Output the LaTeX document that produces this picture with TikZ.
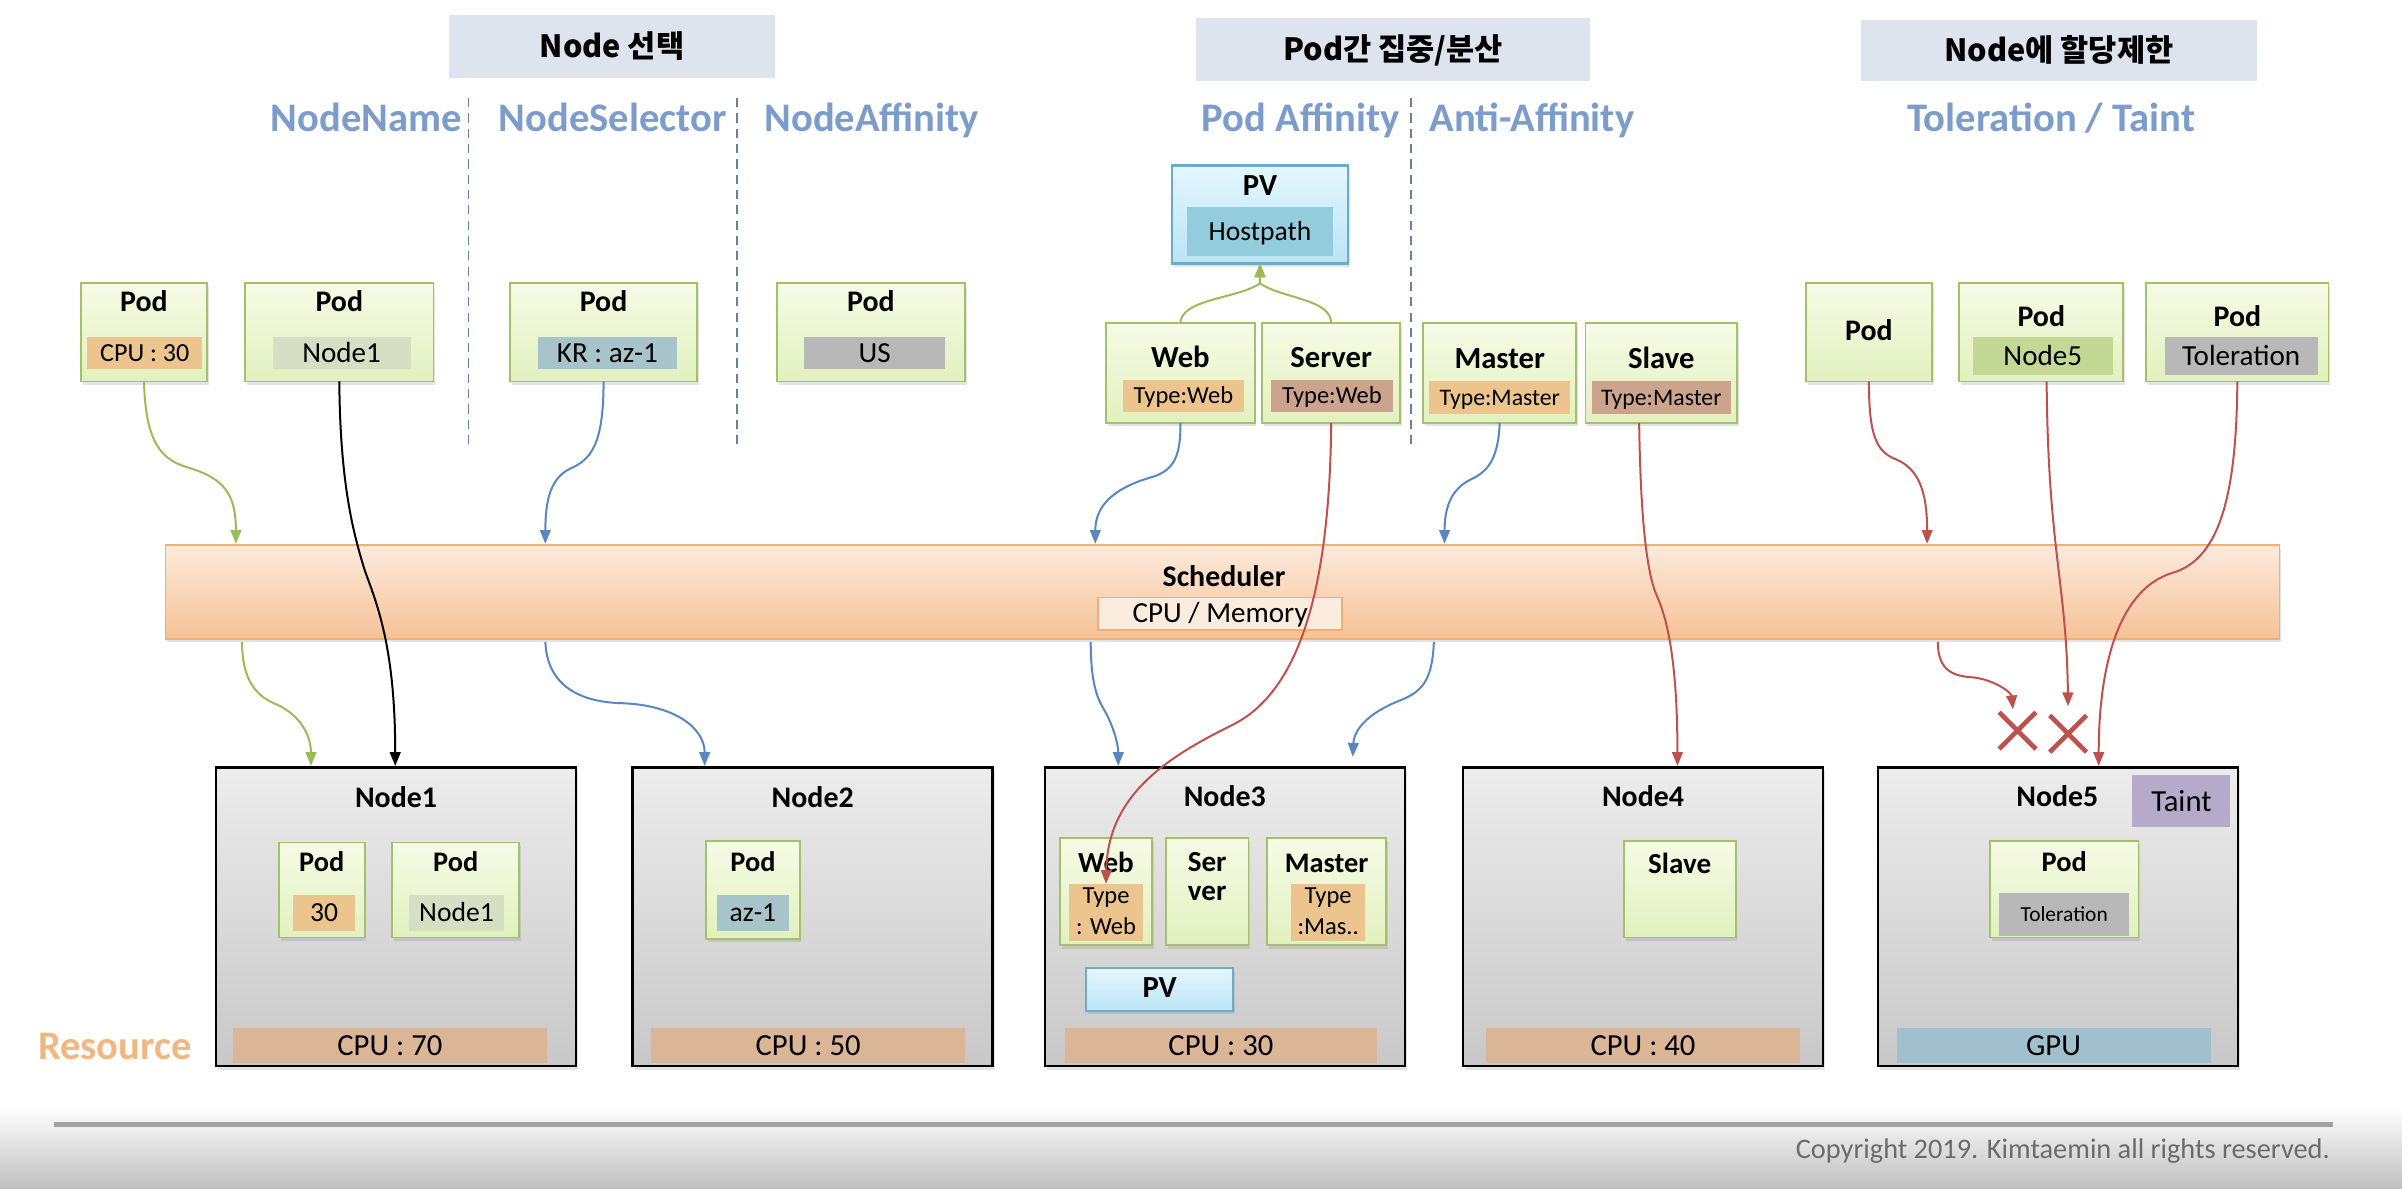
\documentclass[tikz,border=0pt]{standalone}
\usepackage{fontspec}
\setmainfont{Carlito}
\newfontfamily\kr{Noto Sans CJK KR}
\usetikzlibrary{arrows.meta,shadows,shapes.misc}
\definecolor{hdrfill}{RGB}{221,228,238}
\definecolor{catblue}{RGB}{124,156,204}
\definecolor{dashc}{RGB}{100,130,165}
\definecolor{podtop}{RGB}{246,251,230}
\definecolor{podbot}{RGB}{226,240,190}
\definecolor{podline}{RGB}{163,193,104}
\definecolor{lorange}{RGB}{236,196,142}
\definecolor{lbrown}{RGB}{204,164,142}
\definecolor{lgreen}{RGB}{214,222,196}
\definecolor{lteal}{RGB}{166,196,201}
\definecolor{lgray}{RGB}{184,184,184}
\definecolor{lnode5}{RGB}{196,216,150}
\definecolor{pvtop}{RGB}{228,246,253}
\definecolor{pvbot}{RGB}{186,228,244}
\definecolor{pvline}{RGB}{106,172,204}
\definecolor{hostfill}{RGB}{146,204,221}
\definecolor{schtop}{RGB}{252,234,220}
\definecolor{schbot}{RGB}{246,194,150}
\definecolor{schline}{RGB}{238,176,118}
\definecolor{memfill}{RGB}{252,236,222}
\definecolor{nodetop}{RGB}{236,236,236}
\definecolor{nodebot}{RGB}{200,200,200}
\definecolor{cpubar}{RGB}{218,181,150}
\definecolor{gpubar}{RGB}{160,192,206}
\definecolor{taintc}{RGB}{182,170,202}
\definecolor{resc}{RGB}{240,184,128}
\definecolor{cgreen}{RGB}{155,187,89}
\definecolor{cblue}{RGB}{88,134,192}
\definecolor{cred}{RGB}{190,80,77}
\newcommand\mkbox[7]{\node[#1,anchor=north west,inner sep=0pt,outer sep=0pt,minimum width={(#5-#3)*1pt},minimum height={(#6-#4)*1pt}] (#2) at (#3,#4) {#7};}
\begin{document}
\begin{tikzpicture}[x=1pt,y=-1pt,
  fsz/.style={inner sep=0pt,font=\fontsize{#1}{#1}\selectfont,text height={#1*0.644pt},text depth=0pt},
  fszb/.style={inner sep=0pt,font=\bfseries\fontsize{#1}{#1}\selectfont,text height={#1*0.644pt},text depth=0pt},
  hdr/.style={fill=hdrfill,font=\kr\bfseries\fontsize{20}{20}\selectfont,text height=14.6pt,text depth=0pt},
  cat/.style={inner sep=0pt,anchor=base,font=\bfseries\fontsize{26.5}{26.5}\selectfont,text=catblue},
  dashline/.style={draw=dashc,line width=0.9pt,dash pattern=on 6pt off 4pt},
  shad/.style={drop shadow={shadow xshift=1.2pt,shadow yshift=-2.2pt,opacity=.22}},
  podbox/.style={draw=podline,line width=1.2pt,top color=podtop,bottom color=podbot,shad},
  pvbox/.style={draw=pvline,line width=1.4pt,top color=pvtop,bottom color=pvbot,shad},
  schbox/.style={draw=schline,line width=1.2pt,top color=schtop,bottom color=schbot,shad},
  nodebox/.style={draw=black,line width=1.6pt,top color=nodetop,bottom color=nodebot,shad},
  bar/.style={fsz=20,fill=cpubar},
  conn/.style={line width=1.3pt,-{Triangle[length=9pt,width=7pt]}},
]
\fill[white] (0,0) rectangle (1568,776);
\useasboundingbox (0,0) rectangle (1568,776);
\fill[top color=white,bottom color=black!25] (0,722) rectangle (1568,776);
\draw[line width=3pt,black!37] (35,734) -- (1523,734);
\node[fsz=18.5,text=black!58,anchor=base east] (copy) at (1521,756) {Copyright 2019. Kimtaemin all rights reserved.};

% headers
\mkbox{hdr}{h1}{293}{10}{506}{51}{Node 선택}
\mkbox{hdr}{h2}{781}{12}{1038}{53}{Pod간 집중/분산}
\mkbox{hdr}{h3}{1215}{13}{1473}{53}{Node에 할당제한}

% category labels
\node[cat] (c1) at (239,86) {NodeName};
\node[cat] (c2) at (400,86) {NodeSelector};
\node[cat] (c3) at (569,86) {NodeAffinity};
\node[cat] (c4) at (849,86) {Pod Affinity};
\node[cat] (c5) at (1000,86) {Anti-Affinity};
\node[cat] (c6) at (1339,86) {Toleration / Taint};
\draw[dashline] (306,64) -- (306,290);
\draw[dashline] (481,64) -- (481,290);
\draw[dashline] (921,64) -- (921,290);

% top pods
\mkbox{podbox}{p1}{53}{185}{135}{249}{}
\node[fszb=19.5] (p1t) at (94,197) {Pod};
\mkbox{fsz=17,fill=lorange}{p1l}{57}{220}{132}{241}{CPU : 30}
\mkbox{podbox}{p2}{160}{185}{283}{249}{}
\node[fszb=19.5] (p2t) at (221.5,197) {Pod};
\mkbox{fsz=19,fill=lgreen}{p2l}{178}{220}{268}{241}{Node1}
\mkbox{podbox}{p3}{333}{185}{455}{249}{}
\node[fszb=19.5] (p3t) at (394,197) {Pod};
\mkbox{fsz=19,fill=lteal}{p3l}{351}{220}{442}{241}{KR : az-1}
\mkbox{podbox}{p4}{507}{185}{630}{249}{}
\node[fszb=19.5] (p4t) at (568.5,197) {Pod};
\mkbox{fsz=19,fill=lgray}{p4l}{525}{220}{617}{241}{US}

% PV and affinity pods
\mkbox{pvbox}{pv}{765}{108}{880}{172}{}
\node[fszb=20] (pvt) at (822.5,121) {PV};
\mkbox{fsz=18,fill=hostfill}{pvl}{775}{135}{870}{167}{Hostpath}
\mkbox{podbox}{web}{722}{211}{819}{276}{}
\node[fszb=20] (webt) at (770.5,233.5) {Web};
\mkbox{fsz=16,fill=lorange}{webl}{733}{248}{812}{269}{Type:Web}
\mkbox{podbox}{srv}{824}{211}{914}{276}{}
\node[fszb=20] (srvt) at (869,233.5) {Server};
\mkbox{fsz=16,fill=lbrown}{srvl}{830}{248}{909}{269}{Type:Web}
\mkbox{podbox}{mst}{929}{211}{1029}{276}{}
\node[fszb=20] (mstt) at (979,234) {Master};
\mkbox{fsz=15.5,fill=lorange}{mstl}{933}{249}{1025}{270}{Type:Master}
\mkbox{podbox}{slv}{1035}{211}{1134}{276}{}
\node[fszb=20] (slvt) at (1084.5,234) {Slave};
\mkbox{fsz=15.5,fill=lbrown}{slvl}{1039}{249}{1130}{270}{Type:Master}

% toleration pods
\mkbox{podbox}{tp1}{1179}{185}{1261}{249}{}
\node[fszb=19.5] (tp1t) at (1220,216) {Pod};
\mkbox{podbox}{tp2}{1279}{185}{1386}{249}{}
\node[fszb=19.5] (tp2t) at (1332.5,207) {Pod};
\mkbox{fsz=19,fill=lnode5}{tp2l}{1288}{220}{1379}{245}{Node5}
\mkbox{podbox}{tp3}{1401}{185}{1520}{249}{}
\node[fszb=19.5] (tp3t) at (1460.5,207) {Pod};
\mkbox{fsz=19,fill=lgray}{tp3l}{1413}{220}{1513}{245}{Toleration}

% scheduler
\mkbox{schbox}{sch}{108}{356}{1488}{417}{}
\node[fszb=19.5] (scht) at (799,376.5) {Scheduler};
\mkbox{fsz=19,fill=memfill,draw=schline,line width=1.2pt}{mem}{717}{390}{876}{411}{CPU / Memory}

% Node1
\mkbox{nodebox}{n1}{141}{501}{376}{696}{}
\node[fszb=19.5] (n1t) at (258.5,521) {Node1};
\mkbox{podbox}{n1a}{182}{550}{238}{612}{}
\node[fszb=18.5] (n1at) at (210,563) {Pod};
\mkbox{fsz=18,fill=lorange}{n1al}{191}{584}{232}{608}{30}
\mkbox{podbox}{n1b}{256}{550}{339}{612}{}
\node[fszb=18.5] (n1bt) at (297.5,563) {Pod};
\mkbox{fsz=18,fill=lgreen}{n1bl}{267}{584}{329}{608}{Node1}
\mkbox{bar}{n1c}{152}{671}{357}{694}{CPU : 70}

% Node2
\mkbox{nodebox}{n2}{413}{501}{648}{696}{}
\node[fszb=19.5] (n2t) at (530.5,521) {Node2};
\mkbox{podbox}{n2a}{461}{549}{522}{613}{}
\node[fszb=18.5] (n2at) at (491.5,563) {Pod};
\mkbox{fsz=18,fill=lteal}{n2al}{468}{584}{515}{608}{az-1}
\mkbox{bar}{n2c}{425}{671}{630}{694}{CPU : 50}

% Node3
\mkbox{nodebox}{n3}{682}{501}{917}{696}{}
\node[fszb=19.5] (n3t) at (799.5,520) {Node3};
\mkbox{podbox}{n3a}{692}{547}{752}{617}{}
\node[fszb=19] (n3at) at (722,563.5) {Web};
\mkbox{fill=lorange}{n3al}{698}{577}{746}{614}{}
\node[fsz=16,anchor=base] (n3al1) at (722,590) {Type};
\node[fsz=16,anchor=base] (n3al2) at (722,610) {: Web};
\mkbox{podbox}{n3b}{761}{547}{815}{617}{}
\node[fszb=19,anchor=base] (n3bt1) at (788,569) {Ser};
\node[fszb=19,anchor=base] (n3bt2) at (788,588) {ver};
\mkbox{podbox}{n3c}{827}{547}{905}{617}{}
\node[fszb=18.5] (n3ct) at (866,563.5) {Master};
\mkbox{fill=lorange}{n3cl}{843}{577}{891}{614}{}
\node[fsz=16,anchor=base] (n3cl1) at (867,590) {Type};
\node[fsz=16,anchor=base] (n3cl2) at (867,610) {:Mas..};
\mkbox{pvbox}{n3pv}{709}{632}{805}{660}{}
\node[fszb=20] (n3pvt) at (757,645) {PV};
\mkbox{bar}{n3d}{695}{671}{899}{694}{CPU : 30}

% Node4
\mkbox{nodebox}{n4}{955}{501}{1190}{696}{}
\node[fszb=19.5] (n4t) at (1072.5,520) {Node4};
\mkbox{podbox}{n4a}{1060}{549}{1133}{612}{}
\node[fszb=19] (n4at) at (1096.5,564) {Slave};
\mkbox{bar}{n4c}{970}{671}{1175}{694}{CPU : 40}

% Node5
\mkbox{nodebox}{n5}{1226}{501}{1461}{696}{}
\node[fszb=19.5] (n5t) at (1343,520) {Node5};
\mkbox{fsz=20,fill=taintc}{taint}{1392}{506}{1456}{540}{Taint}
\mkbox{podbox}{n5a}{1299}{549}{1396}{612}{}
\node[fszb=18.5] (n5at) at (1347.5,563) {Pod};
\mkbox{fsz=14,fill=lgray}{n5al}{1305}{583}{1390}{611}{Toleration}
\mkbox{bar,fill=gpubar}{n5c}{1238}{671}{1443}{694}{GPU}

\node[fszb=26.5,text=resc] (res) at (75,683) {Resource};

% X marks
\node[cross out,draw=cred,line width=3pt,minimum size=21pt,inner sep=0pt] (x1) at (1317,477) {};
\node[cross out,draw=cred,line width=3pt,minimum size=21pt,inner sep=0pt] (x2) at (1350,479) {};

% free connector ends
\coordinate (t1) at (154,355);
\coordinate (s1) at (158,419);
\coordinate (e1) at (203,500);
\coordinate (e2) at (258,500);
\coordinate (t3) at (356,355);
\coordinate (s3) at (356,419);
\coordinate (e3) at (460,500);
\coordinate (t4) at (715,355);
\coordinate (s4) at (712,419);
\coordinate (e4) at (730,500);
\coordinate (t5) at (943,355);
\coordinate (s5) at (936,419);
\coordinate (e5) at (883,494);
\coordinate (r2s) at (1070,276);
\coordinate (e7) at (1095,500);
\coordinate (t6) at (1258,355);
\coordinate (s6) at (1265,419);
\coordinate (x1t) at (1314,463);
\coordinate (r5s) at (1336,249);
\coordinate (x2t) at (1350,461);
\coordinate (e8) at (1370,500);

% PV links
\draw[conn,cgreen] (web.north) .. controls (771,195) and (808,195) .. (822.5,185) -- (pv.south);
\draw[conn,cgreen] (srv.north) .. controls (869,195) and (837,195) .. (822.5,185) -- (pv.south);

% green
\draw[conn,cgreen] (p1.south) .. controls (95,290) and (106,300) .. (122,305) .. controls (146,312) and (154,322) .. (t1);
\draw[conn,cgreen] (s1) .. controls (158,445) and (168,455) .. (181,460) .. controls (196,467) and (203,480) .. (e1);
% black
\draw[conn,black] (p2.south) .. controls (222,320) and (232,352) .. (238,372) .. controls (245,392) and (258,420) .. (e2);
% blue
\draw[conn,cblue] (p3.south) .. controls (394,290) and (386,300) .. (372,306) .. controls (360,312) and (356,325) .. (t3);
\draw[conn,cblue] (s3) .. controls (357,445) and (375,458) .. (405,459) .. controls (440,460) and (460,475) .. (e3);
\draw[conn,cblue] (web.south) .. controls (771,300) and (765,308) .. (750,312) .. controls (727,319) and (715,330) .. (t4);
\draw[conn,cblue] (s4) .. controls (712,445) and (716,455) .. (720,462) .. controls (726,472) and (730,485) .. (e4);
\draw[conn,cblue] (mst.south) .. controls (978,300) and (971,308) .. (960,313) .. controls (948,319) and (943,330) .. (t5);
\draw[conn,cblue] (s5) .. controls (935,445) and (928,452) .. (912,458) .. controls (895,465) and (884,475) .. (e5);
% red
\draw[conn,cred] (srv.south) .. controls (868,380) and (850,450) .. (805,473) .. controls (760,495) and (723,520) .. (n3al.north);
\draw[conn,cred] (r2s) .. controls (1071,340) and (1075,375) .. (1082,390) .. controls (1090,408) and (1095,440) .. (e7);
\draw[conn,cred] (tp1.south) .. controls (1220,285) and (1225,295) .. (1238,300) .. controls (1252,306) and (1258,320) .. (t6);
\draw[conn,cred] (s6) .. controls (1265,435) and (1272,441) .. (1286,442) .. controls (1301,443) and (1313,452) .. (x1t);
\draw[conn,cred] (r5s) .. controls (1337,360) and (1349,380) .. (x2t);
\draw[conn,cred] (tp3.south) .. controls (1460,320) and (1450,365) .. (1418,374) .. controls (1385,384) and (1370,430) .. (e8);
\end{tikzpicture}
\end{document}
